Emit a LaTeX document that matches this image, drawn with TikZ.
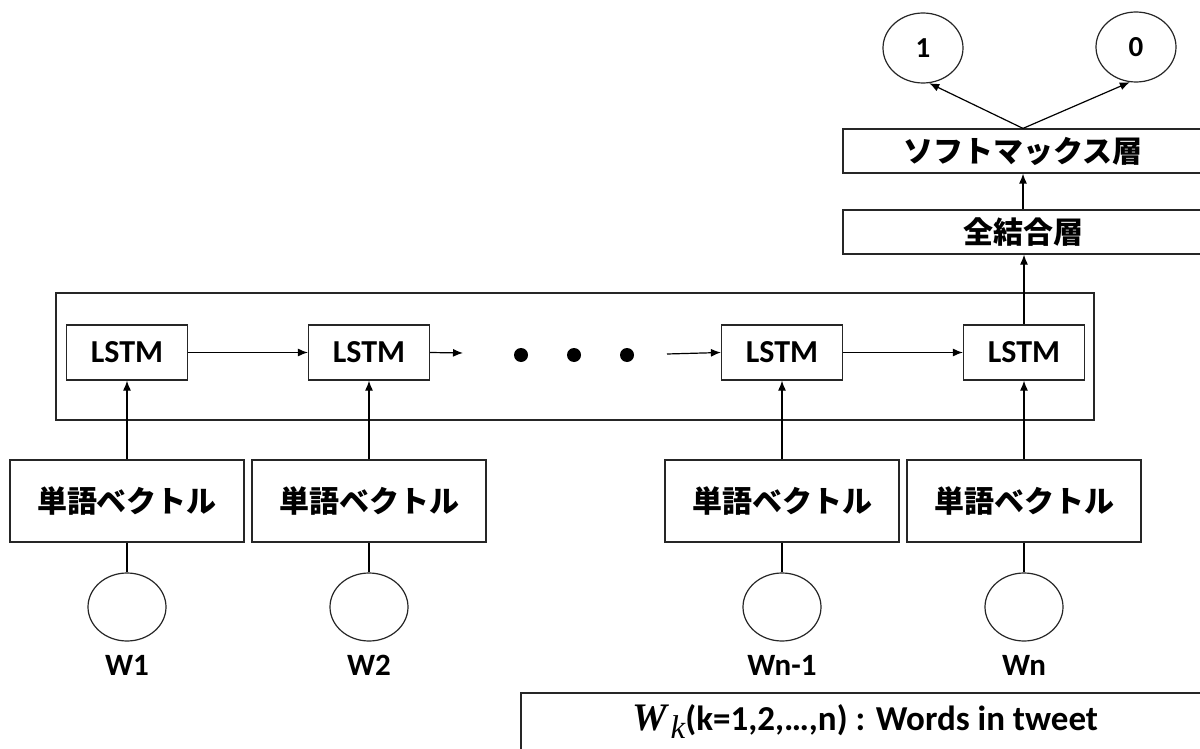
\documentclass[tikz,border=0pt]{standalone}
\usepackage{fontspec}
\setmainfont{Carlito}
\newfontfamily\jp{Noto Sans CJK JP}
\newfontfamily\libser{Liberation Serif}
\usetikzlibrary{shapes.geometric,arrows.meta}
\begin{document}
\begin{tikzpicture}[x=1pt,y=-1pt,
 box/.style={draw=black!85, line width=1.2pt, inner sep=0pt, fill=white},
 lstm/.style={box, minimum width=121, minimum height=55, font=\fontsize{32}{32}\selectfont\bfseries},
 wvec/.style={box, minimum width=234, minimum height=82, font=\jp\fontsize{30}{30}\selectfont\bfseries},
 layer/.style={box, minimum width=360, minimum height=44, font=\jp\fontsize{30}{30}\selectfont\bfseries},
 inp/.style={draw=black!85, line width=1.2pt, ellipse, minimum width=78, minimum height=68, inner sep=0pt},
 outp/.style={inp, minimum width=80, minimum height=70, font=\fontsize{29}{29}\selectfont\bfseries},
 lbl/.style={font=\fontsize{31}{31}\selectfont\bfseries},
 dotnode/.style={circle, fill=black, minimum size=14, inner sep=0pt},
 arr/.style={-{Latex[length=10pt,width=8pt]}, line width=1.2pt},
 ln/.style={line width=1.2pt}]
\useasboundingbox (0,0) rectangle (1200,749);
\fill[white] (0,0) rectangle (1200,749);
% recurrent container
\node[box, minimum width=1038, minimum height=127] (rnn) at (575,356.5) {};
% LSTM cells
\node[lstm] (l1) at (127,352.5) {LSTM};
\node[lstm] (l2) at (369,352.5) {LSTM};
\node[lstm] (l3) at (782,352.5) {LSTM};
\node[lstm] (l4) at (1024,352.5) {LSTM};
% dots
\node[dotnode] (d1) at (521,355) {};
\node[dotnode] (d2) at (574,355) {};
\node[dotnode] (d3) at (627,355) {};
\coordinate (c1) at (463,353);
\coordinate (c2) at (667,354);
% word vectors
\node[wvec] (w1) at (127,501) {単語ベクトル};
\node[wvec] (w2) at (369,501) {単語ベクトル};
\node[wvec] (w3) at (782,501) {単語ベクトル};
\node[wvec] (w4) at (1024,501) {単語ベクトル};
% inputs
\node[inp] (i1) at (127,607) {};
\node[inp] (i2) at (369,607) {};
\node[inp] (i3) at (782,607) {};
\node[inp] (i4) at (1024,607) {};
\node[lbl] (t1) at (127,665) {W1};
\node[lbl] (t2) at (369,665) {W2};
\node[lbl] (t3) at (782,665) {Wn-1};
\node[lbl] (t4) at (1024,665) {Wn};
% upper layers
\node[layer] (fc) at (1023,232) {全結合層};
\node[layer] (sm) at (1023,151) {ソフトマックス層};
\node[outp] (o1) at (923,48) {1};
\node[outp] (o0) at (1136,47) {0};
% note
\node[box, minimum width=682, minimum height=59] (note) at (862,722.5) {};
\node[anchor=center] (notetext) at (865,722) {{\libser\bfseries\itshape\fontsize{39}{39}\selectfont W}\kern4pt\raisebox{-8pt}{\libser\itshape\fontsize{33}{33}\selectfont k}{\fontsize{35}{35}\selectfont\bfseries(k=1,2,…,n) : Words in tweet}};
% connectors
\draw[arr] (l1) -- (l2);
\draw[arr] (l2.east) -- (c1);
\draw[arr] (c2) -- (l3.west);
\draw[arr] (l3) -- (l4);
\foreach \k in {1,2,3,4}{
  \draw[arr] (w\k.north) -- (l\k.south);
  \draw[ln] (w\k.south) -- (i\k.north);
}
\draw[arr] (l4.north) -- (l4.north |- fc.south);
\draw[arr] (fc.north) -- (sm.south);
\draw[arr] (sm.north) -- (o1.-80);
\draw[arr] (sm.north) -- (o0.-100);
\end{tikzpicture}
\end{document}
